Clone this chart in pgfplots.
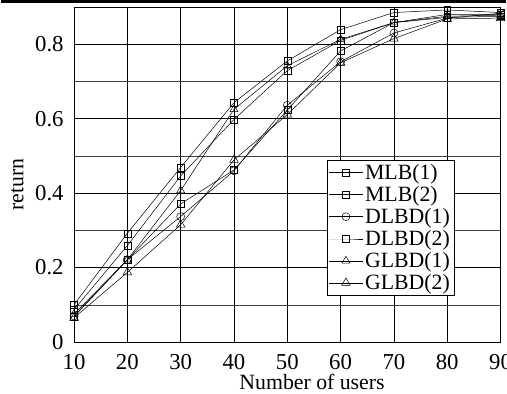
\documentclass[border=0pt]{standalone}
\usepackage{fontspec}
\setmainfont{Liberation Serif}
\usepackage{pgfplots}
\pgfplotsset{compat=1.18}
\begin{document}
\begin{tikzpicture}
\begin{axis}[
 scale only axis, width=429bp, height=337bp,
 xmin=10, xmax=90, ymin=0, ymax=0.9,
 xtick={10,20,...,90},
 ytick={0,0.2,0.4,0.6,0.8},
 minor ytick={0.1,0.3,0.5,0.7},
 grid=both,
 major grid style={black, line width=0.5bp},
 minor grid style={black!75, line width=0.5bp},
 axis line style={black, line width=0.6bp},
 major tick length=0pt, minor tick length=0pt,
 xlabel={Number of users}, ylabel={return},
 /pgf/number format/assume math mode=true,
 tick label style={font=\fontsize{23}{27}\selectfont},
 xticklabel style={yshift=-9bp},
 yticklabel style={xshift=-7bp},
 label style={font=\fontsize{22}{26}\selectfont},
 xlabel style={at={(axis description cs:0.558,0)}, anchor=north, yshift=-29bp},
 ylabel style={at={(axis description cs:-0.133,0.47)}, anchor=center},
 legend style={at={(0.592,0.543)}, anchor=north west, font=\fontsize{22}{24}\selectfont, draw=black, line width=0.5bp, inner sep=2bp, row sep=1.5bp},
 legend cell align=left,
 legend image code/.code={\draw[mark repeat=2,mark phase=2] plot coordinates {(0cm,0cm) (0.6cm,0cm) (1.2cm,0cm)};},
 every axis plot/.append style={black, line width=0.5bp, mark size=3.5bp, mark options={solid, fill=none}},
]
\coordinate (tl) at (rel axis cs:0,1);
\coordinate (br) at (rel axis cs:1,0);
\addplot[mark=square] coordinates {(10,0.100) (20,0.292) (30,0.469) (40,0.643) (50,0.755) (60,0.839) (70,0.885) (80,0.892) (90,0.885)};
\addlegendentry{MLB(1)}
\addplot[mark=square] coordinates {(10,0.087) (20,0.259) (30,0.446) (40,0.598) (50,0.729) (60,0.810) (70,0.858) (80,0.880) (90,0.880)};
\addlegendentry{MLB(2)}
\addplot[mark=o, mark size=4bp] coordinates {(10,0.070) (20,0.221) (30,0.337) (40,0.460) (50,0.636) (60,0.753) (70,0.830) (80,0.870) (90,0.883)};
\addlegendentry{DLBD(1)}
\addplot[mark=square] coordinates {(10,0.068) (20,0.221) (30,0.371) (40,0.462) (50,0.623) (60,0.782) (70,0.858) (80,0.872) (90,0.875)};
\addlegendentry{DLBD(2)}
\addplot[mark=triangle, mark size=4.6bp] coordinates {(10,0.075) (20,0.221) (30,0.407) (40,0.625) (50,0.742) (60,0.813) (70,0.858) (80,0.875) (90,0.878)};
\addlegendentry{GLBD(1)}
\addplot[mark=triangle, mark size=5bp] coordinates {(10,0.065) (20,0.187) (30,0.315) (40,0.489) (50,0.611) (60,0.750) (70,0.815) (80,0.868) (90,0.870)};
\addlegendentry{GLBD(2)}
\end{axis}
\pgfresetboundingbox
\path ([xshift=-73bp,yshift=7bp]tl) rectangle ([xshift=5bp,yshift=-52bp]br);
\draw[line width=3bp] ([xshift=-73bp,yshift=5bp]tl) -- ([xshift=5bp,yshift=5bp]tl -| br);
\end{tikzpicture}
\end{document}
